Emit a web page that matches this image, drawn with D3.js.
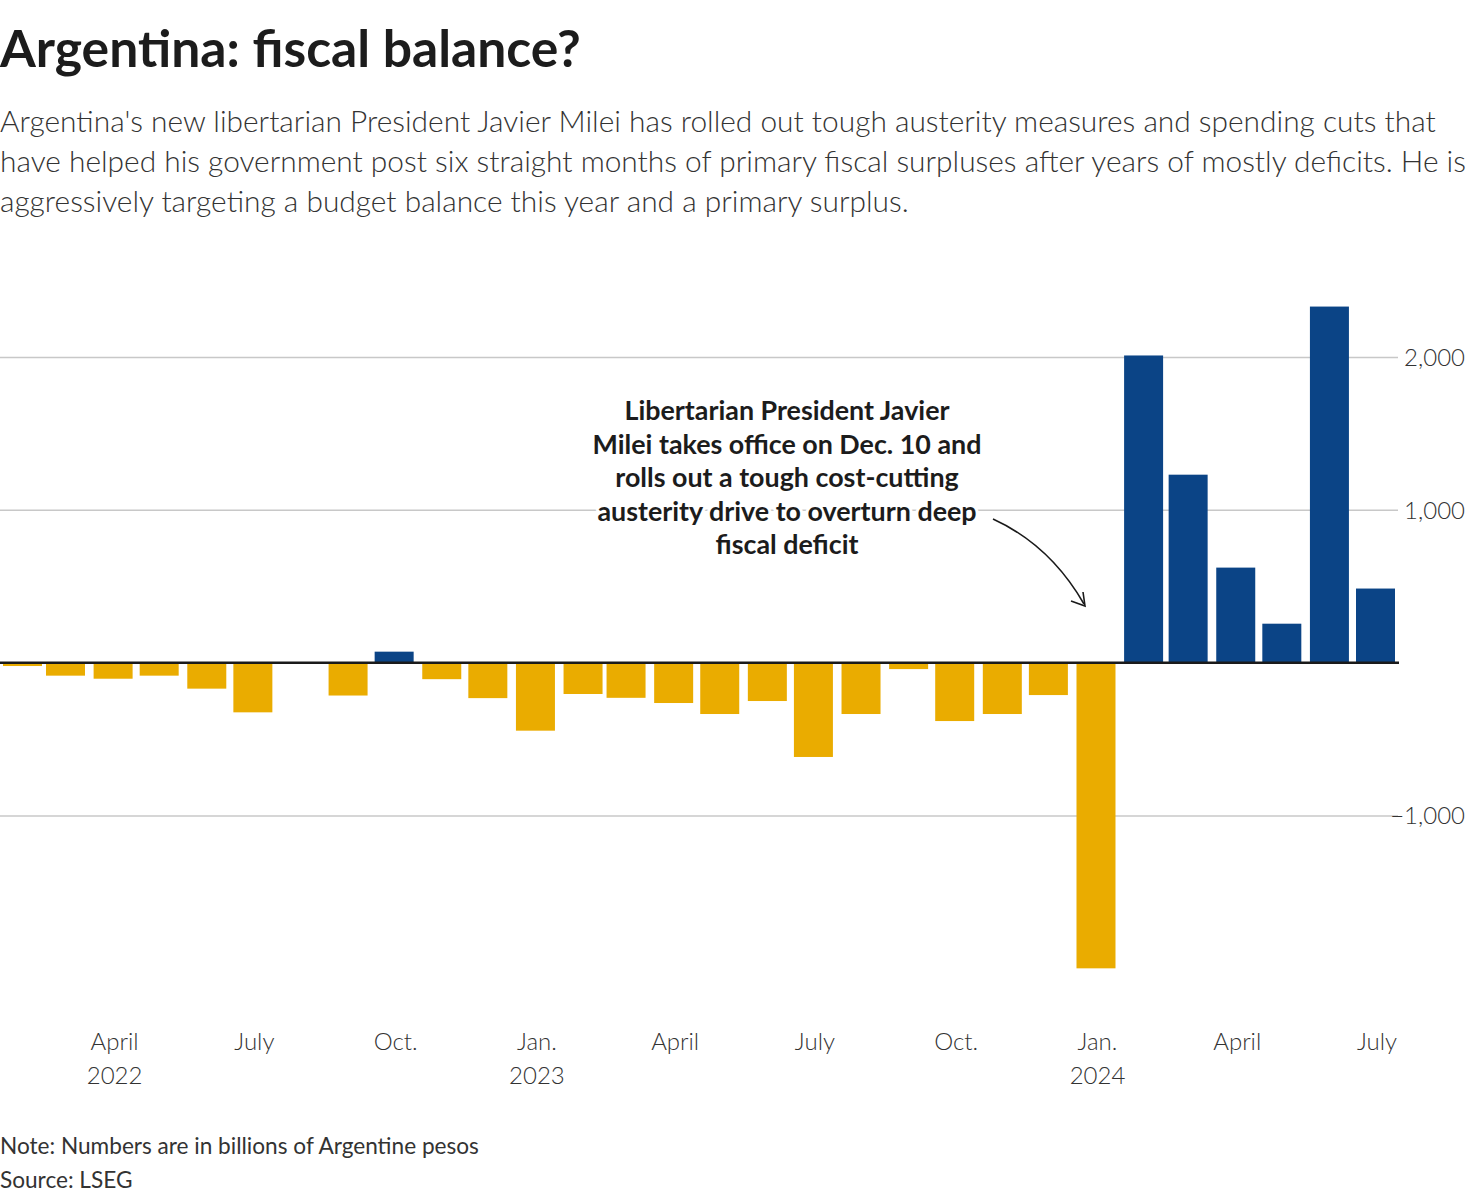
<!DOCTYPE html>
<html>
<head>
<meta charset="utf-8">
<script src="https://cdn.jsdelivr.net/npm/d3@7"></script>
<style>
  html, body { margin: 0; padding: 0; background: #fff; }
  svg { display: block; }
  text { font-family: Lato, "Noto Sans", sans-serif; }
</style>
</head>
<body>
<svg id="chart" width="1484" height="1202"></svg>
<script>
// ---------- DATA ----------
// month slot in which each bar is drawn (first of month)
const months = [
  "2022-02","2022-03","2022-04","2022-05","2022-06","2022-07","2022-08","2022-09",
  "2022-10","2022-11","2022-12","2023-01","2023-02","2023-03","2023-04","2023-05",
  "2023-06","2023-07","2023-08","2023-09","2023-10","2023-11","2023-12","2024-01",
  "2024-02","2024-03","2024-04","2024-05","2024-06","2024-07"
];
// fiscal balance, billions of Argentine pesos
const balance = [
  -22, -85, -105, -85, -170, -325, 0, -215,
  72, -108, -232, -445, -205, -230, -264, -336,
  -251, -617, -336, -42, -382, -336, -212, -2000,
  2010, 1230, 622, 255, 2330, 485
];
const xTickMonths = ["2022-04","2022-07","2022-10","2023-01","2023-04","2023-07","2023-10","2024-01","2024-04","2024-07"];
const xTickLabels = [["April","2022"],["July"],["Oct."],["Jan.","2023"],["April"],["July"],["Oct."],["Jan.","2024"],["April"],["July"]];
const yTicks = [-1000, 1000, 2000];

const titleText = "Argentina: fiscal balance?";
const subtitleLines = [
  "Argentina's new libertarian President Javier Milei has rolled out tough austerity measures and spending cuts that",
  "have helped his government post six straight months of primary fiscal surpluses after years of mostly deficits. He is",
  "aggressively targeting a budget balance this year and a primary surplus."
];
const annotationLines = [
  "Libertarian President Javier",
  "Milei takes office on Dec. 10 and",
  "rolls out a tough cost-cutting",
  "austerity drive to overturn deep",
  "fiscal deficit"
];
const noteText = "Note: Numbers are in billions of Argentine pesos";
const sourceText = "Source: LSEG";

// ---------- SETUP ----------
const parse = d3.utcParse("%Y-%m");
const data = months.map((m, i) => ({ date: parse(m), value: balance[i] }));

const svg = d3.select("#chart");
const NEG = "#EAAC00", POS = "#0B4486";
const barW = 39;

const x = d3.scaleUtc()
  .domain([parse("2022-02"), parse("2024-07")])
  .range([3, 1356]);
const y = d3.scaleLinear()
  .domain([-1000, 2000])
  .range([815.5, 357]);

function fitFont(sel, target) {
  const node = sel.node();
  const fs = parseFloat(sel.attr("font-size"));
  const w = node.getComputedTextLength();
  return fs * target / w;
}

// ---------- TITLE ----------
const title = svg.append("text")
  .attr("x", 0).attr("y", 67)
  .attr("font-size", 44).attr("font-weight", 700)
  .attr("fill", "#1c1c1c")
  .text(titleText);
title.attr("font-size", fitFont(title, 581));

const sub = svg.append("g");
const subNodes = subtitleLines.map((t, i) =>
  sub.append("text")
    .attr("x", 0).attr("y", 132 + i * 40)
    .attr("font-size", 28).attr("font-weight", 300)
    .attr("fill", "#333")
    .text(t));
const subFs = (fitFont(subNodes[0], 1442) + fitFont(subNodes[1], 1461)) / 2;
subNodes.forEach(s => s.attr("font-size", subFs));

// ---------- GRID / Y AXIS ----------
const yAxis = d3.axisRight(y)
  .tickValues(yTicks)
  .tickSize(1398)
  .tickFormat(d => d3.format(",")(d).replace("-", "\u2212"));
const gy = svg.append("g").call(yAxis);
gy.select(".domain").remove();
gy.selectAll(".tick line").attr("stroke", "#c8c8c8").attr("stroke-width", 1.5);
gy.selectAll(".tick text")
  .attr("x", 1465).attr("dy", "0.34em")
  .attr("text-anchor", "end")
  .attr("font-size", 24).attr("font-weight", 300)
  .attr("fill", "#333")
  .style("font-family", "Lato, 'Noto Sans', sans-serif");

// ---------- BARS ----------
svg.append("g").selectAll("rect")
  .data(data.filter(d => d.value !== 0))
  .join("rect")
  .attr("x", d => x(d.date))
  .attr("width", barW)
  .attr("y", d => d.value >= 0 ? y(d.value) : y(0))
  .attr("height", d => Math.abs(y(d.value) - y(0)))
  .attr("fill", d => d.value >= 0 ? POS : NEG);

// zero line
svg.append("line")
  .attr("x1", 0).attr("x2", 1399)
  .attr("y1", y(0)).attr("y2", y(0))
  .attr("stroke", "#1a1a1a").attr("stroke-width", 2.5);

// ---------- X AXIS ----------
const xAxis = d3.axisBottom(x)
  .tickValues(xTickMonths.map(parse))
  .tickSize(0)
  .tickFormat("");
const gx = svg.append("g").attr("transform", "translate(0,1024)").call(xAxis);
gx.select(".domain").remove();
gx.selectAll(".tick").each(function(d, i) {
  const t = d3.select(this).append("text")
    .attr("x", barW / 2)
    .attr("text-anchor", "middle")
    .attr("font-size", 24).attr("font-weight", 300)
    .attr("fill", "#333")
    .style("font-family", "Lato, 'Noto Sans', sans-serif");
  xTickLabels[i].forEach((line, j) => {
    t.append("tspan").attr("x", barW / 2 + 1).attr("y", 26 + j * 34).text(line);
  });
});

// ---------- ANNOTATION ----------
const ann = svg.append("g");
const annNodes = annotationLines.map((t, i) =>
  ann.append("text")
    .attr("x", 787).attr("y", 420 + i * 33.6)
    .attr("text-anchor", "middle")
    .attr("font-size", 25).attr("font-weight", 700)
    .attr("fill", "#1c1c1c")
    .attr("stroke", "#fff").attr("stroke-width", 6)
    .attr("paint-order", "stroke")
    .attr("stroke-linejoin", "round")
    .text(t));
const annFs = fitFont(annNodes[1], 389);
annNodes.forEach(s => s.attr("font-size", annFs));

// arrow
svg.append("path")
  .attr("d", "M993,519 Q1050,545 1084,604")
  .attr("fill", "none").attr("stroke", "#1a1a1a").attr("stroke-width", 1.6);
svg.append("path")
  .attr("d", "M1071,601 L1085,606 L1083,592")
  .attr("fill", "none").attr("stroke", "#1a1a1a").attr("stroke-width", 1.6)
  .attr("stroke-linejoin", "miter");

// ---------- NOTES ----------
const note = svg.append("text")
  .attr("x", 0).attr("y", 1154)
  .attr("font-size", 22).attr("font-weight", 400)
  .attr("fill", "#333").text(noteText);
const noteFs = fitFont(note, 479);
note.attr("font-size", noteFs);
svg.append("text")
  .attr("x", 0).attr("y", 1188)
  .attr("font-size", noteFs).attr("font-weight", 400)
  .attr("fill", "#333").text(sourceText);
</script>
</body>
</html>
